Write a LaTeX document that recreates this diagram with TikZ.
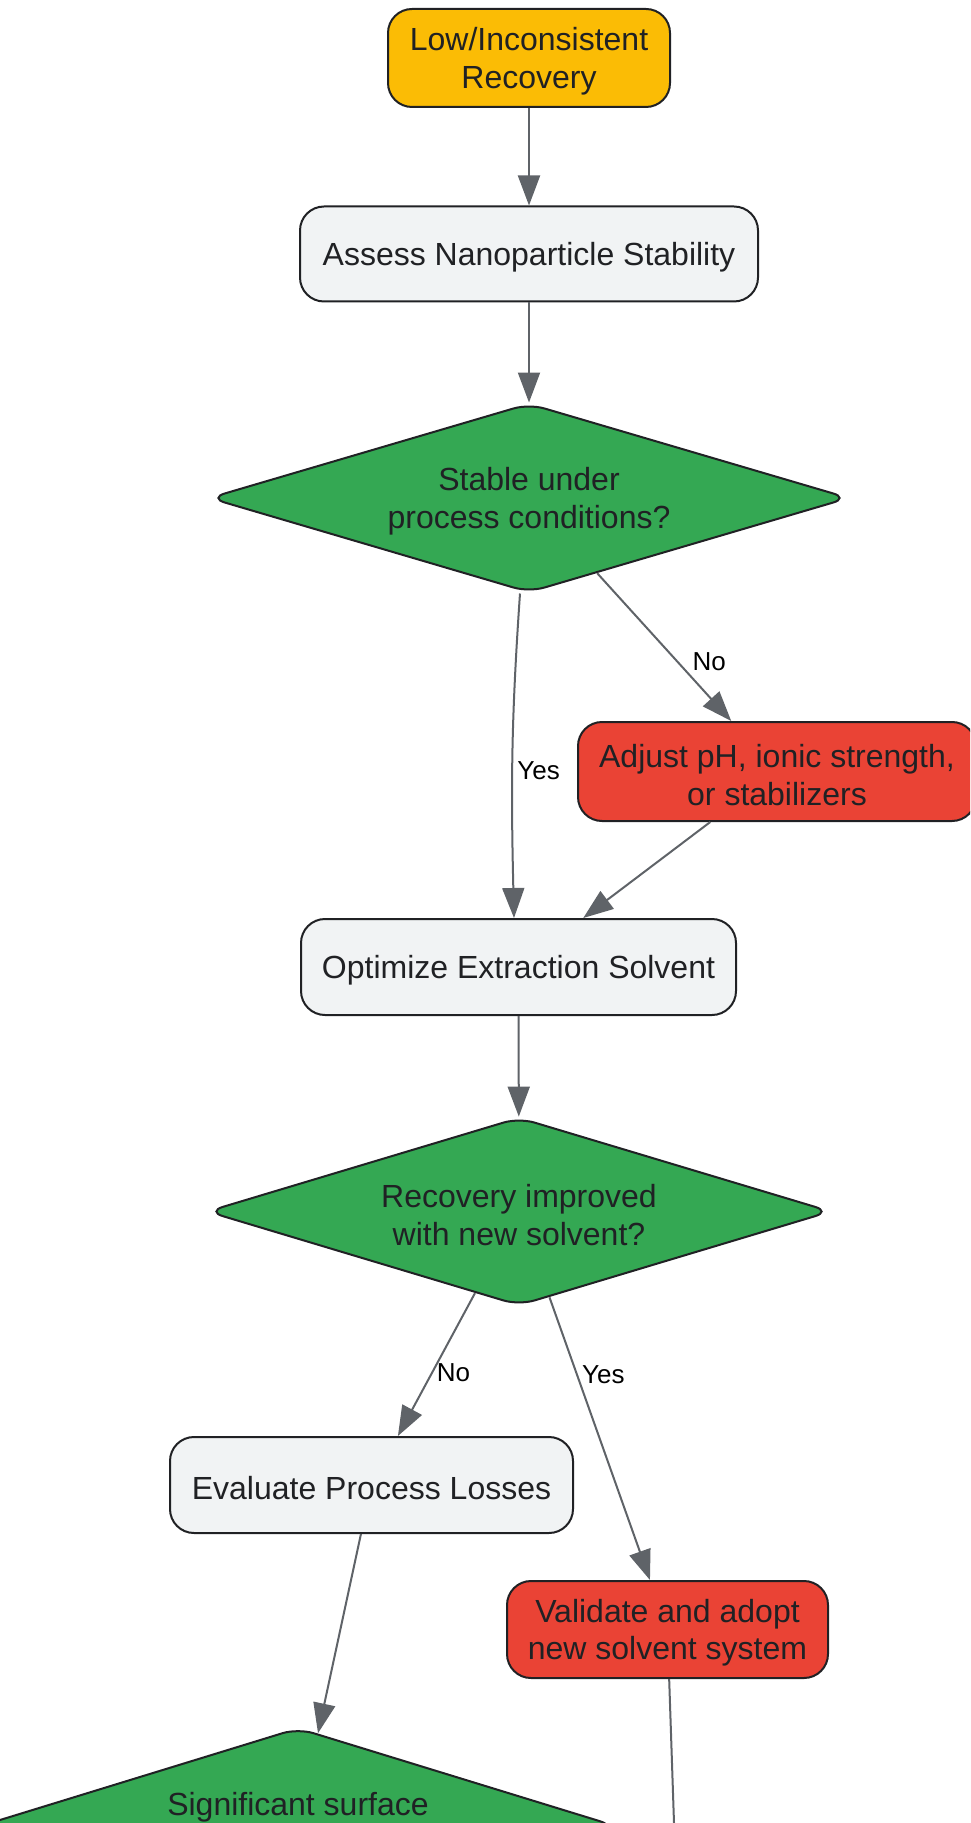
\documentclass[tikz,border=0pt]{standalone}
\usepackage{fontspec}
\setmainfont{Liberation Sans}
\usetikzlibrary{arrows.meta,shapes.geometric,positioning}
\definecolor{startfill}{HTML}{FBBC05}
\definecolor{procfill}{HTML}{F1F3F4}
\definecolor{fixfill}{HTML}{EA4335}
\definecolor{askfill}{HTML}{34A853}
\definecolor{edgecol}{HTML}{5F6368}
\definecolor{inkcol}{HTML}{202124}

\begin{document}
\begin{tikzpicture}[x=0.5pt,y=-0.5pt,
  box/.style={draw=inkcol,line width=1pt,rounded corners=12pt,text=inkcol,
    font=\fontsize{16}{18.75}\selectfont,align=center,inner sep=0pt,text height=15pt},
  twolines/.style={text height=33.75pt},
  start/.style={box,fill=startfill},
  proc/.style={box,fill=procfill},
  fix/.style={box,fill=fixfill},
  decision/.style={box,diamond,aspect=3.35,fill=askfill,rounded corners=8pt},
  flow/.style={draw=edgecol,line width=1pt,-{Triangle[length=15pt,width=11pt]}},
  edge/.style={draw=edgecol,line width=1pt},
  lbl/.style={font=\fontsize{13}{15}\selectfont,text=black,inner sep=2pt}]
  \useasboundingbox (0,0) rectangle (970,1823);
  \clip (0,0) rectangle (970,1823);

  % nodes, top to bottom
  \node[start, twolines, minimum width=141pt, minimum height=49pt] (low) at (529,58) {Low/Inconsistent\\Recovery};
  \node[proc, minimum width=229pt, minimum height=47.5pt] (assess) at (529,254) {Assess Nanoparticle Stability};
  \node[decision, twolines, minimum width=320pt, minimum height=94.5pt] (stable) at (529,498) {Stable under\\process conditions?};
  \node[fix, twolines, minimum width=199pt, minimum height=49.5pt] (adjust) at (777,771.5) {Adjust pH, ionic strength,\\or stabilizers};
  \node[proc, minimum width=217.5pt, minimum height=48pt] (optimize) at (518.5,967) {Optimize Extraction Solvent};
  \node[decision, twolines, minimum width=312pt, minimum height=94pt] (improved) at (519,1211.5) {Recovery improved\\with new solvent?};
  \node[proc, minimum width=201.5pt, minimum height=48pt] (evaluate) at (371.5,1485) {Evaluate Process Losses};
  \node[fix, twolines, minimum width=160.5pt, minimum height=48.5pt] (validate) at (667.5,1629.5) {Validate and adopt\\new solvent system};
  \node[decision, minimum width=318pt, minimum height=98pt, text height=12pt, text depth=23pt] (surface) at (298,1826) {Significant surface};
  \coordinate (valout) at (674,1823);

  % connectors
  \foreach \a/\b in {low/assess,assess/stable,adjust/optimize,optimize/improved,evaluate/surface}
    \draw[flow] (\a) -- (\b);
  \draw[flow] (stable) -- node[lbl,pos=0.6,right=5pt] {No} (adjust);
  \draw[flow] ([xshift=-4.5pt]stable.south) .. controls +(-9,130) and +(-3,-130) .. ([xshift=-2.25pt]optimize.north)
    node[lbl,pos=0.55,anchor=west] {Yes};
  \draw[flow] (improved) -- node[lbl,pos=0.56,anchor=west] {No} (evaluate);
  \draw[flow] (improved) -- node[lbl,pos=0.275,anchor=west] {Yes} (validate);
  \draw[edge] (validate) -- (valout);
\end{tikzpicture}
\end{document}
